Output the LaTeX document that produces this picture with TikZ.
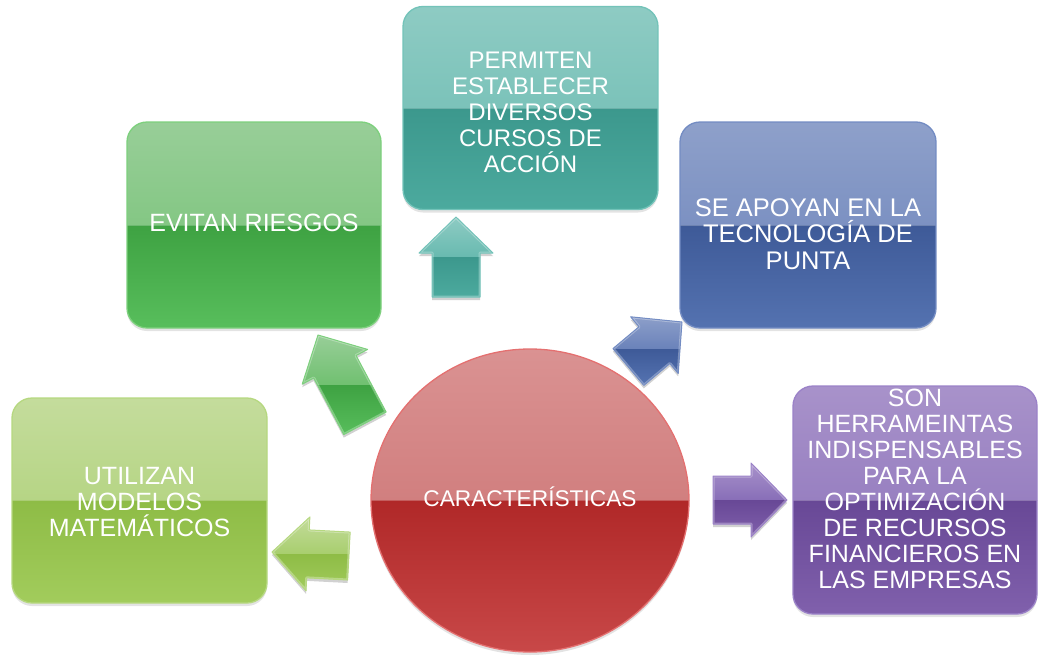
\documentclass[tikz,border=0pt]{standalone}
\usepackage{fontspec}
\setmainfont{Liberation Sans}
\usetikzlibrary{shapes.geometric,shadows}

\definecolor{grA}{RGB}{152,206,152}\definecolor{grB}{RGB}{112,192,112}
\definecolor{grC}{RGB}{62,162,66}\definecolor{grD}{RGB}{88,190,92}\definecolor{grE}{RGB}{125,208,125}
\definecolor{tlA}{RGB}{142,203,195}\definecolor{tlB}{RGB}{104,186,176}
\definecolor{tlC}{RGB}{60,152,141}\definecolor{tlD}{RGB}{76,170,158}\definecolor{tlE}{RGB}{115,195,185}
\definecolor{blA}{RGB}{142,160,202}\definecolor{blB}{RGB}{106,130,186}
\definecolor{blC}{RGB}{62,90,152}\definecolor{blD}{RGB}{84,114,176}\definecolor{blE}{RGB}{115,140,195}
\definecolor{puA}{RGB}{168,146,202}\definecolor{puB}{RGB}{136,110,184}
\definecolor{puC}{RGB}{104,72,150}\definecolor{puD}{RGB}{128,96,172}\definecolor{puE}{RGB}{155,130,200}
\definecolor{lmA}{RGB}{196,220,156}\definecolor{lmB}{RGB}{168,206,110}
\definecolor{lmC}{RGB}{142,188,70}\definecolor{lmD}{RGB}{162,204,92}\definecolor{lmE}{RGB}{182,216,128}
\definecolor{rdA}{RGB}{218,146,146}\definecolor{rdB}{RGB}{200,108,108}
\definecolor{rdC}{RGB}{176,40,40}\definecolor{rdD}{RGB}{200,72,72}\definecolor{rdE}{RGB}{228,112,112}

\newcommand\tightlines{\lineskiplimit=-100pt\relax}

\tikzset{
  gloss/.style n args={4}{path picture={
     \shade[sharp corners, top color=#1,bottom color=#2] (path picture bounding box.north west) rectangle (path picture bounding box.east);
     \shade[sharp corners, top color=#3,bottom color=#4] (path picture bounding box.west) rectangle (path picture bounding box.south east);
     \draw[sharp corners, white, opacity=.25, line width=1pt] (path picture bounding box.west) -- (path picture bounding box.east);}},
  boxshape/.style={rectangle, rounded corners=20pt, inner sep=0pt, line width=1.3pt,
     drop shadow={opacity=0.22, shadow xshift=0pt, shadow yshift=-3pt}},
  lbl/.style={text=white, align=center, inner sep=0pt},
}

\newcommand\arrowpath[1]{(0,0) -- (-36,-37) -- (-36,-24) -- (-#1,-24) -- (-#1,24) -- (-36,24) -- (-36,37) -- cycle}
% tip, angle, length, ytop, ybot, colour prefix
\newcommand\glossarrow[6]{%
  \fill[black, opacity=.18, shift={(#1)}, yshift=-3pt, rotate=#2] \arrowpath{#3};
  \begin{scope}
    \clip[shift={(#1)}, rotate=#2] \arrowpath{#3};
    \shade[top color=#6A, bottom color=#6B] (0,#4) rectangle (1039,{(#4+#5)/2});
    \shade[top color=#6C, bottom color=#6D] (0,{(#4+#5)/2}) rectangle (1039,#5);
    \draw[white, opacity=.3, line width=3pt, line join=round, shift={(#1)}, rotate=#2] \arrowpath{#3};
  \end{scope}
  \draw[#6E, line width=1pt, line join=round, shift={(#1)}, rotate=#2] \arrowpath{#3};
}

\begin{document}
\begin{tikzpicture}[x=1pt,y=-1pt]
\useasboundingbox (0,0) rectangle (1039,656);

% boxes
\node[boxshape, minimum width=254pt, minimum height=206pt, draw=grE, gloss={grA}{grB}{grC}{grD}] (green) at (254,225) {};
\node[boxshape, minimum width=255pt, minimum height=203pt, draw=tlE, gloss={tlA}{tlB}{tlC}{tlD}] (teal) at (530.5,108) {};
\node[boxshape, minimum width=256pt, minimum height=206pt, draw=blE, gloss={blA}{blB}{blC}{blD}] (blue) at (808,225) {};
\node[boxshape, minimum width=244pt, minimum height=228pt, draw=puE, gloss={puA}{puB}{puC}{puD}] (purple) at (915,500) {};
\node[boxshape, minimum width=255pt, minimum height=205pt, draw=lmE, gloss={lmA}{lmB}{lmC}{lmD}] (lime) at (139.5,500.5) {};

% centre
\node[ellipse, minimum width=318pt, minimum height=303pt, inner sep=0pt, line width=1.3pt, draw=rdE,
      gloss={rdA}{rdB}{rdC}{rdD}, drop shadow={opacity=0.22, shadow xshift=0pt, shadow yshift=-3pt}] (centre) at (530,500.5) {};

% arrows
\coordinate (tipT) at (456,217);
\coordinate (tipG) at (318,335);
\coordinate (tipB) at (682,322);
\coordinate (tipP) at (787,500);
\coordinate (tipL) at (272,552);
\glossarrow{tipT}{90}{80}{217}{297}{tl}
\glossarrow{tipG}{118}{100}{335}{435}{gr}
\glossarrow{tipB}{40}{70}{315}{383}{bl}
\glossarrow{tipP}{0}{74}{463}{537}{pu}
\glossarrow{tipL}{177}{77}{516}{592}{lm}

% labels
\node[lbl, font=\fontsize{22.7}{26}\selectfont, text height=16.3pt, text depth=0pt] (tc) at (530,498.5) {CARACTERÍSTICAS};
\node[lbl, font=\fontsize{25}{26}\selectfont, text height=17.9pt, text depth=0pt] (tg) at (254,222.5) {EVITAN RIESGOS};
\node[lbl, font={\fontsize{24}{26}\selectfont\tightlines}] (tt) at (530.5,112.5)
  {PERMITEN\\ESTABLECER\\DIVERSOS\\CURSOS DE\\ACCIÓN};
\node[lbl, font={\fontsize{25.5}{26.7}\selectfont\tightlines}] (tb) at (808,234)
  {SE APOYAN EN LA\\TECNOLOGÍA DE\\PUNTA};
\node[lbl, font={\fontsize{25}{26}\selectfont\tightlines}] (tp) at (915,489)
  {SON\\HERRAMEINTAS\\INDISPENSABLES\\PARA LA\\OPTIMIZACIÓN\\DE RECURSOS\\FINANCIEROS EN\\LAS EMPRESAS};
\node[lbl, font={\fontsize{25}{26}\selectfont\tightlines}] (tl) at (139.5,502)
  {UTILIZAN\\MODELOS\\MATEMÁTICOS};
\end{tikzpicture}
\end{document}
